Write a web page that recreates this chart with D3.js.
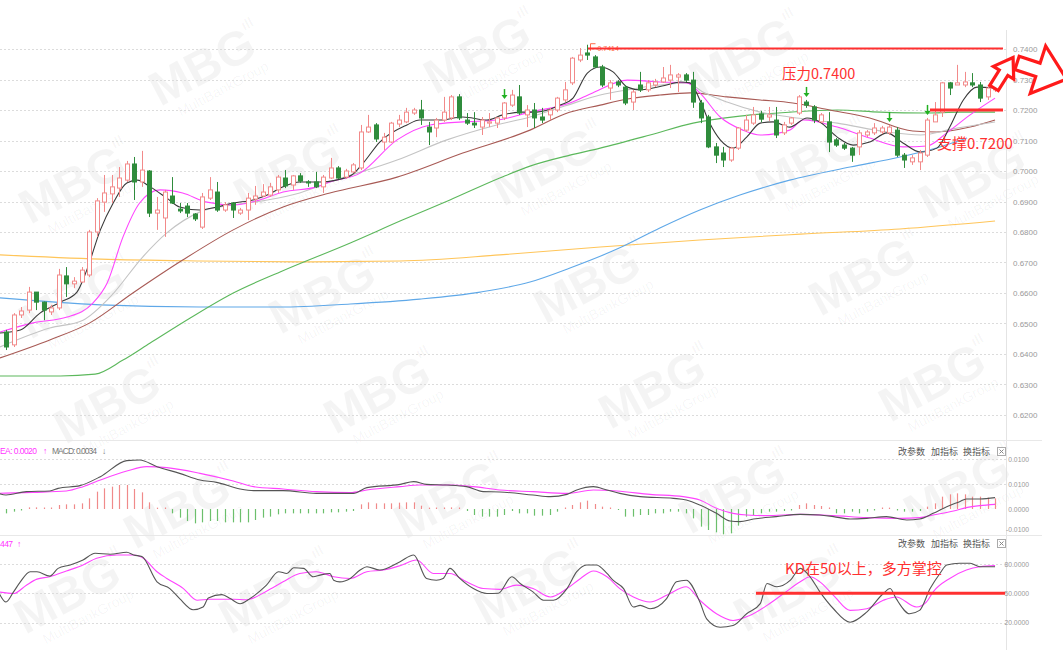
<!DOCTYPE html>
<html><head><meta charset="utf-8">
<script src="https://cdn.jsdelivr.net/npm/d3@7"></script>
<style>body{margin:0;background:#fff;}svg{display:block;}</style>
</head><body>
<svg id="c" width="1063" height="650"></svg>
<script>
// ---------------- DATA ----------------
const open  = [.6472,.6430,.6528,.6544,.6603,.6570,.6538,.6551,.6656,.6630,.6636,.6659,.6800,.6898,.6925,.6944,.6970,.7023,.6964,.7000,
.6862,.6846,.6918,.6875,.6885,.6859,.6816,.6911,.6931,.6872,.6895,.6862,.6872,.6908,.6918,.6921,.6938,.6977,.6954,.6984,
.6964,.6964,.6948,.6977,.7010,.6980,.6997,.7010,.7128,.7151,.7095,.7095,.7154,.7161,.7190,.7200,.7144,.7141,.7167,.7174,
.7243,.7167,.7157,.7144,.7157,.7157,.7174,.7216,.7243,.7184,.7200,.7177,.7184,.7200,.7233,.7289,.7364,.7387,.7374,.7341,
.7272,.7292,.7275,.7226,.7282,.7266,.7282,.7292,.7298,.7308,.7315,.7298,.7223,.7177,.7079,.7059,.7036,.7075,.7134,.7157,
.7187,.7177,.7167,.7125,.7157,.7190,.7226,.7210,.7161,.7161,.7102,.7085,.7075,.7079,.7118,.7125,.7128,.7125,.7134,.7052,
.7030,.7030,.7052,.7161,.7193,.7289,.7282,.7282,.7289,.7282,.7243,.7266];
const high  = [.6479,.6534,.6554,.6620,.6603,.6572,.6561,.6679,.6685,.6652,.6685,.6807,.6911,.6987,.6987,.7013,.7033,.7046,.7066,.7003,
.6915,.6938,.6980,.6895,.6895,.6862,.6928,.6980,.6964,.6898,.6898,.6879,.6928,.6951,.6957,.6961,.6987,.7003,.6987,.6993,
.6970,.6997,.6987,.7043,.7016,.7007,.7026,.7151,.7184,.7157,.7125,.7161,.7184,.7207,.7207,.7233,.7161,.7174,.7243,.7249,
.7252,.7190,.7193,.7177,.7190,.7177,.7226,.7266,.7282,.7216,.7223,.7207,.7207,.7243,.7292,.7374,.7403,.7414,.7380,.7348,
.7298,.7298,.7282,.7266,.7325,.7298,.7302,.7341,.7348,.7321,.7321,.7325,.7233,.7184,.7092,.7079,.7079,.7144,.7184,.7210,
.7197,.7210,.7210,.7161,.7177,.7249,.7233,.7216,.7190,.7193,.7108,.7092,.7079,.7134,.7134,.7157,.7148,.7151,.7144,.7059,
.7052,.7069,.7174,.7226,.7292,.7292,.7348,.7325,.7321,.7292,.7282,.7282];
const low   = [.6413,.6423,.6518,.6534,.6544,.6511,.6528,.6544,.6587,.6616,.6633,.6652,.6784,.6866,.6895,.6915,.6964,.6905,.6948,.6849,
.6807,.6784,.6892,.6862,.6849,.6836,.6810,.6905,.6866,.6866,.6846,.6856,.6839,.6889,.6915,.6915,.6928,.6944,.6938,.6961,
.6948,.6944,.6928,.6974,.6974,.6974,.6993,.7003,.7125,.7095,.7069,.7092,.7144,.7157,.7184,.7151,.7085,.7111,.7161,.7167,
.7167,.7151,.7141,.7118,.7144,.7141,.7167,.7210,.7184,.7144,.7141,.7157,.7167,.7193,.7226,.7282,.7357,.7364,.7338,.7275,
.7233,.7275,.7216,.7200,.7259,.7259,.7275,.7289,.7272,.7259,.7292,.7207,.7157,.7075,.7026,.7013,.7030,.7069,.7128,.7151,
.7160,.7164,.7108,.7118,.7151,.7184,.7207,.7157,.7157,.7062,.7079,.7069,.7030,.7052,.7111,.7118,.7121,.7118,.7046,.7010,
.7020,.7003,.7046,.7161,.7177,.7249,.7282,.7275,.7275,.7226,.7233,.7259];
const close = [.6423,.6528,.6541,.6603,.6570,.6544,.6551,.6659,.6630,.6639,.6675,.6800,.6902,.6928,.6948,.6977,.7023,.6964,.7003,.6862,
.6872,.6931,.6895,.6869,.6862,.6843,.6915,.6938,.6872,.6889,.6872,.6872,.6911,.6918,.6931,.6948,.6980,.6951,.6984,.6967,
.6961,.6948,.6980,.7010,.6977,.7000,.7020,.7128,.7144,.7105,.7111,.7157,.7167,.7193,.7200,.7174,.7128,.7167,.7193,.7243,
.7174,.7157,.7151,.7167,.7161,.7174,.7223,.7249,.7190,.7200,.7174,.7167,.7200,.7239,.7266,.7370,.7380,.7380,.7341,.7282,
.7289,.7282,.7223,.7259,.7266,.7289,.7292,.7305,.7315,.7315,.7298,.7226,.7174,.7079,.7052,.7036,.7075,.7141,.7167,.7184,
.7170,.7184,.7118,.7151,.7174,.7243,.7216,.7167,.7184,.7095,.7085,.7075,.7052,.7125,.7128,.7141,.7141,.7144,.7052,.7036,
.7043,.7059,.7167,.7184,.7289,.7272,.7289,.7292,.7282,.7239,.7272,.7272];
const signalArrows = [66, 106, 117, 122];
const highMark = {index: 77, label: "0.7414"};

// moving averages: [candle index, price]
const ma5 = [[-0.8,.6469],[1.9,.6479],[4.5,.6534],[7.2,.6570],[9.4,.6603],[10.7,.6675],[12.5,.6807],[14.2,.6895],[16,.6961],[17.4,.6970],[19.1,.6948],[21.3,.6911],[23,.6882],[25.7,.6872],[27.9,.6882],[30.1,.6895],[32.7,.6905],[34.6,.6921],[36.7,.6948],[38.9,.6964],[41.6,.6964],[45.6,.6984],[47.3,.7026],[49.5,.7095],[53.1,.7151],[54.8,.7167],[57.5,.7167],[60.5,.7177],[63.7,.7167],[65.8,.7184],[68.1,.7193],[70.3,.7193],[73.4,.7216],[75.1,.7239],[77,.7321],[78.7,.7341],[80.4,.7325],[82.3,.7275],[84,.7266],[85.7,.7272],[87.5,.7282],[89.3,.7292],[90.6,.7289],[91.9,.7233],[93.2,.7157],[94.6,.7102],[96.3,.7075],[98.1,.7111],[99.9,.7157],[101.6,.7161],[103.8,.7144],[106.1,.7174],[107.8,.7161],[110.1,.7111],[112.2,.7085],[114.4,.7095],[116.7,.7125],[118.8,.7092],[121.1,.7062],[123.3,.7075],[125,.7144],[126.8,.7233],[128.6,.7275],[131,.7272]];
const ma10 = [[-0.8,.6472],[3.6,.6502],[8.1,.6521],[11.5,.6567],[13.4,.6633],[15.5,.6784],[17.7,.6895],[20.4,.6938],[23.4,.6928],[26.6,.6898],[30.1,.6889],[33.6,.6905],[36.7,.6931],[41.2,.6948],[42.9,.6964],[46.9,.6993],[51.8,.7102],[56.2,.7151],[60.5,.7161],[65,.7167],[69.4,.7193],[74.7,.7223],[77.7,.7256],[82.3,.7298],[86.6,.7292],[90.2,.7289],[91.9,.7256],[94.6,.7177],[97.6,.7134],[99.9,.7118],[103.8,.7134],[105.6,.7167],[110.1,.7144],[114.4,.7108],[118.8,.7079],[122,.7082],[124.6,.7125],[127.7,.7184],[131,.7239]];
const ma20 = [[-0.8,.6423],[5.8,.6485],[10.2,.6511],[13.8,.6587],[18.1,.6718],[21.3,.6797],[25.7,.6866],[30.1,.6889],[34.6,.6905],[38.9,.6928],[42.9,.6964],[51.8,.7036],[58.4,.7102],[65,.7151],[69.4,.7177],[74,.7213],[78.7,.7249],[82.3,.7266],[86.6,.7282],[90.2,.7289],[92.3,.7259],[95.5,.7226],[99.9,.7193],[103.8,.7177],[110.1,.7157],[116.7,.7128],[121.1,.7118],[125.4,.7138],[131,.7161]];
const ma30 = [[-0.8,.6387],[5.8,.6446],[11.1,.6502],[16.8,.6600],[23.4,.6708],[30.1,.6807],[36.7,.6882],[42.9,.6928],[51.8,.6980],[60.5,.7059],[69.4,.7134],[74,.7187],[78.7,.7216],[82.3,.7236],[86.6,.7249],[90.6,.7256],[95.5,.7243],[99.9,.7233],[104.2,.7223],[109.1,.7200],[114.4,.7174],[120.1,.7131],[123.3,.7128],[127.7,.7144],[131,.7167]];
const ma60 = [[-0.8,.6328],[7.2,.6328],[11.8,.6334],[15.5,.6380],[19.1,.6436],[24.4,.6518],[30.1,.6600],[36.3,.6669],[45.6,.6764],[52.5,.6839],[58.8,.6905],[65.4,.6977],[69.4,.7016],[74.7,.7052],[78.7,.7075],[85.3,.7118],[91,.7157],[97.2,.7180],[103.8,.7193],[110.1,.7200],[115.8,.7193],[121.7,.7190],[126.4,.7193],[131,.7193]];
const ma120 = [[-0.8,.6584],[12.5,.6561],[25.7,.6554],[36.3,.6554],[45.6,.6564],[54.8,.6580],[62.8,.6603],[69.4,.6636],[74.7,.6682],[81.3,.6748],[86.6,.6813],[91.9,.6872],[97.2,.6921],[103.8,.6970],[111.8,.7013],[118.4,.7046],[123.7,.7079],[127.3,.7108]];
const ma250 = [[-0.8,.6725],[12.5,.6711],[25.7,.6705],[38.9,.6702],[52.2,.6705],[65.4,.6725],[78.7,.6751],[91.9,.6774],[105.2,.6793],[118.4,.6810],[131,.6836]];

// MACD
const macdHist = [-.00087,-.00053,-.0001,.00033,.00033,.0001,.0001,.0008,.00093,.00093,.00113,.00213,.00347,.00413,.00447,.0048,.0048,.004,.00333,.00133,
.00027,.0001,-.00087,-.00173,-.0024,-.00287,-.00267,-.0024,-.0024,-.00267,-.00267,-.00267,-.00267,-.0022,-.00173,-.00153,-.00107,-.00087,-.00087,-.00087,
-.00087,-.00087,-.00087,-.00067,-.00067,-.00053,-.0004,.00093,.00133,.00113,.00113,.00113,.00127,.00133,.00133,.00067,.00027,.0001,.0001,.00033,
.0001,-.0004,-.0012,-.00153,-.00153,-.00153,-.0012,-.0004,-.00087,-.00087,-.00133,-.00133,-.0012,-.00053,.0001,.0008,.00133,.00167,.001,.00047,
.0001,-.0002,-.00153,-.00153,-.0012,-.0012,-.00087,-.00087,-.00053,-.00053,-.00087,-.00187,-.00353,-.0042,-.00467,-.00507,-.00487,-.00333,-.00153,-.0012,
-.00087,-.00053,-.00053,-.0004,-.0001,.0008,.00113,.0008,.0006,.0001,-.00087,-.00087,-.00053,-.00087,-.00053,-.0001,.0001,.00027,-.0001,-.00053,
-.00053,-.0004,.00047,.00113,.00247,.00293,.00313,.00293,.00247,.00247,.00227,.00213];
const dif = [[-1,.00313],[0,.0028],[2.7,.00347],[5.8,.0036],[6.9,.00413],[9.8,.00467],[12.5,.00647],[16,.00967],[17.7,.0098],[20,.00847],[23,.00713],[25.7,.0058],[27.9,.00533],[31,.004],[32.8,.00367],[36.7,.00367],[41.1,.00313],[43.4,.00313],[46,.00313],[47.8,.00427],[52.2,.00493],[54,.00547],[55.7,.00493],[58.4,.0048],[61,.00447],[63.2,.00347],[65.4,.0034],[69.8,.0028],[72.1,.00247],[74.3,.00293],[75.6,.0038],[77.8,.00447],[79.6,.0038],[81.3,.00313],[84,.00247],[88.4,.00213],[90.1,.0018],[91.9,.0008],[94.1,-.00087],[95.9,-.0024],[97.2,-.00253],[99,-.002],[102,-.00153],[105.2,-.00107],[107.8,-.0012],[109.6,-.00153],[111.8,-.002],[114,-.00187],[116.6,-.00153],[119.3,-.0022],[121,-.002],[122.8,-.00087],[124.6,.00047],[126.3,.00147],[127.2,.002],[129,.002],[131,.00227]];
const dea = [[-1,.00313],[3.6,.00333],[8,.0036],[10.2,.00447],[12.5,.0058],[16,.0076],[18.6,.00847],[21.3,.00827],[25.7,.00713],[30.1,.0056],[32.8,.00447],[36.7,.004],[41.1,.00347],[45.6,.00327],[47.8,.0038],[52.2,.00447],[54.8,.0048],[58.8,.0048],[61.9,.00447],[65.4,.0038],[69.8,.00347],[74.3,.00313],[77.8,.0038],[80.9,.0036],[85.3,.00293],[89.7,.00247],[91.9,.0018],[94.1,.00013],[96.3,-.00087],[98.1,-.0012],[100.7,-.00133],[105.2,-.00107],[109.6,-.00133],[114,-.00173],[118.4,-.00187],[121,-.00173],[122.8,-.0012],[125.5,-.0004],[127.2,.00027],[129,.00067],[131,.00093]];
const macdTickVals = [0.01, 0.005, 0, -0.004];
const macdTickLabels = ["0.0100", "0.0100", "0.0000", "-0.0100"];

// KD
const kLine = [[-1,51.4],[0,41],[1,51.4],[1.9,61.7],[3.2,72.1],[4.1,72.1],[5.8,67.6],[6.9,75.5],[8.5,79],[10.2,84.1],[11.8,91],[13.8,90],[16,92.1],[16.9,89.3],[18,87.6],[20,61.7],[21.7,54.8],[23,44.5],[24.8,33.1],[26.1,35.9],[26.8,45.2],[28.6,48.6],[29.7,44.5],[31,39.3],[32.3,44.5],[34.5,58.3],[36.1,72.1],[37.2,70.3],[38.1,76.2],[39.4,75.5],[40.7,66.9],[41.6,68.6],[42.9,70.3],[43.4,63.4],[44.2,61.7],[45.6,65.2],[46.9,73.8],[47.8,77.2],[49.5,73.8],[52.2,82.4],[54,89.3],[55.7,65.2],[57,63.4],[57.9,65.2],[58.8,75.5],[60.1,65.2],[61.9,54.8],[63.7,49.7],[65.2,50],[67,66.9],[68.1,60],[69.8,51.4],[71.2,42.8],[72.5,42.8],[74.3,54.8],[75.6,72.1],[76.9,79],[78.2,79],[79.6,70.3],[80.4,63.4],[81.8,54.8],[83.1,35.9],[84,37.6],[85.3,34.1],[87.5,44.5],[88.8,61.7],[90.1,63.4],[91.9,41],[92.8,23.8],[94.6,15.2],[96.3,16.9],[98.1,29],[99.9,39.3],[100.8,60],[102.1,56.6],[103.9,63.4],[105.2,75.5],[106.5,66.9],[107.8,51.4],[109.6,34.1],[111.8,20.3],[114,30.7],[116.2,49.7],[117.1,54.8],[117.9,44.5],[119.7,29],[121,32.4],[122.4,54.8],[123.7,70.3],[124.6,79],[126.3,80.7],[127.7,80.7],[129,77.2],[131,77.2]];
const dLine = [[-1,51.4],[1,49.7],[2.7,58.3],[4.1,64.5],[5.8,66.9],[8,72.8],[10.2,79],[12,85.9],[14.7,89.3],[16.9,89.3],[18.2,85.9],[20,72.1],[21.3,65.2],[23.5,54.8],[25.3,42.8],[27,43.8],[30.1,43.8],[31.9,43.4],[34.5,52.1],[36.7,61.7],[38.9,70.3],[41.1,72.1],[43.4,66.9],[45.6,65.2],[47.8,72.1],[50,73.8],[52.2,78.3],[54.4,84.1],[56.6,70.3],[58.8,70.3],[61,61.7],[63.2,54.8],[65.4,54],[67.6,58.3],[69.8,54.8],[72.1,46.2],[74.3,54.8],[76.1,65.2],[77.8,72.8],[79.6,66.9],[81.3,54.8],[83.1,46.2],[85.3,41],[87.5,47.9],[90.1,56.6],[91.9,42.8],[94.1,29],[96.3,22.1],[98.5,27.2],[100.8,37.6],[103,49.7],[105.2,61.7],[106.5,66.9],[107.8,61.7],[109.6,47.9],[111.8,32.4],[114,34.1],[116.2,42.8],[117.9,46.2],[120.6,35.9],[121.9,41],[122.8,51.4],[125,65.2],[127.2,73.8],[129,77.2],[131,78.3]];
const kdTicks = [80, 50, 20];
const priceTicks = [0.74,0.73,0.72,0.71,0.70,0.69,0.68,0.67,0.66,0.65,0.64,0.63,0.62];

const resistance = 0.7400, support = 0.7200, kdLevel = 50;
const notes = {res: "压力0.7400", sup: "支撑0.7200", kd: "KD在50以上，多方掌控"};

// ---------------- DRAW ----------------
const svg = d3.select("#c");
const RED = "#f28a8a", GREEN = "#2f8c3c", ANN = "#ff3030";
const FONT = "'Liberation Sans', Arial, sans-serif";
const CJK = "'Noto Sans CJK SC', sans-serif";
const AXX = 1006;

const x = d3.scaleLinear().domain([0, 131]).range([6, 995.05]);
const yP = d3.scaleLinear().domain([0.62, 0.74]).range([415, 49]);
const yM = d3.scaleLinear().domain([0, 0.01]).range([509, 459]);
const yK = d3.scaleLinear().domain([20, 80]).range([622.5, 564]);

const defs = svg.append("defs");
[["clipMain",0,30,AXX,410],["clipMacd",0,440,AXX,95],["clipKd",0,535,AXX,97]].forEach(c=>{
  defs.append("clipPath").attr("id",c[0]).append("rect").attr("x",c[1]).attr("y",c[2]).attr("width",c[3]).attr("height",c[4]);
});

// watermarks (kept inside the picture)
const wmPos = [[205,72],[480,60],[745,62],[75,190],[290,178],[548,172],[812,168],[975,185],[75,305],[325,300],[590,290],[865,282],[110,410],[380,400],[655,395],[935,388],[180,515],[450,505],[735,500],[960,495],[70,600],[275,600],[530,592],[790,598]];
const wm = svg.append("g").attr("pointer-events","none");
wmPos.forEach(p=>{
  const g = wm.append("g").attr("transform",`translate(${p[0]},${p[1]}) rotate(-28)`);
  g.append("text").attr("text-anchor","middle").attr("y",10).attr("font-family",FONT).attr("font-weight","bold")
    .attr("font-size",48).attr("fill","#000").attr("fill-opacity",0.045).text("MBG");
  g.append("text").attr("text-anchor","middle").attr("x",8).attr("y",28).attr("font-family",FONT)
    .attr("font-size",14).attr("fill","#000").attr("fill-opacity",0.045).text("MultiBankGroup");
  g.append("text").attr("x",54).attr("y",-18).attr("font-family",FONT).attr("font-weight","bold")
    .attr("font-size",14).attr("fill","#000").attr("fill-opacity",0.045).text("ıll");
});

// frame lines
svg.append("line").attr("x1",AXX+0.5).attr("x2",AXX+0.5).attr("y1",30).attr("y2",650).attr("stroke","#e4e4e4");
[440.5,535.5].forEach(y=>svg.append("line").attr("x1",0).attr("x2",1042).attr("y1",y).attr("y2",y).attr("stroke","#e8e8e8"));

// grid
function grid(vals, scale){
  svg.append("g").selectAll("line").data(vals).join("line")
    .attr("x1",0).attr("x2",AXX).attr("y1",d=>Math.round(scale(d))+0.5).attr("y2",d=>Math.round(scale(d))+0.5)
    .attr("stroke","#dcdcdc").attr("stroke-dasharray","2,2");
}
grid(priceTicks, yP);
grid([0.01,0.005], yM);
grid(kdTicks, yK);

// axes
const axP = d3.axisRight(yP).tickValues(priceTicks).tickFormat(d3.format(".4f")).tickSize(0).tickPadding(0);
const gP = svg.append("g").attr("transform","translate(1013,0)").call(axP);
gP.select(".domain").remove();
gP.selectAll("text").attr("font-family",FONT).attr("font-size",8).attr("fill","#9a9a9a");

const axM = d3.axisLeft(yM).tickValues(macdTickVals).tickFormat((d,i)=>macdTickLabels[i]).tickSize(0).tickPadding(0);
const gM = svg.append("g").attr("transform","translate(1029,0)").call(axM);
gM.select(".domain").remove();
gM.selectAll("text").attr("font-family",FONT).attr("font-size",6.8).attr("fill","#9a9a9a");

const axK = d3.axisLeft(yK).tickValues(kdTicks).tickFormat(d3.format(".4f")).tickSize(0).tickPadding(0);
const gK = svg.append("g").attr("transform","translate(1029,0)").call(axK);
gK.select(".domain").remove();
gK.selectAll("text").attr("font-family",FONT).attr("font-size",6.8).attr("fill","#9a9a9a");

// main plot
const main = svg.append("g").attr("clip-path","url(#clipMain)");
const lineP = d3.line().x(d=>x(d[0])).y(d=>yP(d[1])).curve(d3.curveMonotoneX);
[[ma250,"#ffc559"],[ma120,"#5fa8e8"],[ma60,"#5cb85c"],[ma30,"#a85a55"],[ma20,"#c4c4c4"],[ma10,"#ff44ff"],[ma5,"#3a3a3a"]].forEach(s=>{
  main.append("path").attr("d",lineP(s[0])).attr("fill","none").attr("stroke",s[1]).attr("stroke-width",1.1);
});

const cg = main.append("g");
d3.range(close.length).forEach(i=>{
  const up = close[i] >= open[i];
  const col = up ? RED : GREEN;
  const cx = Math.round(x(i));
  const top = yP(Math.max(open[i],close[i])), bot = yP(Math.min(open[i],close[i]));
  const h = Math.max(bot-top, 1);
  if(up){
    cg.append("line").attr("x1",cx+0.5).attr("x2",cx+0.5).attr("y1",yP(high[i])).attr("y2",top).attr("stroke",col);
    cg.append("line").attr("x1",cx+0.5).attr("x2",cx+0.5).attr("y1",top+h).attr("y2",yP(low[i])).attr("stroke",col);
    cg.append("rect").attr("x",cx-1.5).attr("y",top).attr("width",4).attr("height",h).attr("fill","#fff").attr("stroke",col);
  } else {
    cg.append("line").attr("x1",cx+0.5).attr("x2",cx+0.5).attr("y1",yP(high[i])).attr("y2",yP(low[i])).attr("stroke",col);
    cg.append("rect").attr("x",cx-1.5).attr("y",top).attr("width",4).attr("height",h).attr("fill",col).attr("stroke",col);
  }
});

// signal arrows
signalArrows.forEach(i=>{
  const cx = Math.round(x(i))+0.5, yy = yP(high[i]) - 3;
  main.append("line").attr("x1",cx).attr("x2",cx).attr("y1",yy-10).attr("y2",yy-3).attr("stroke","#22b022").attr("stroke-width",1.5);
  main.append("path").attr("d",`M${cx-3},${yy-4} L${cx+3},${yy-4} L${cx},${yy} Z`).attr("fill","#22b022");
});

// high marker
{
  const hx = Math.round(x(highMark.index))+3.5, hy = yP(0.7414)+2;
  svg.append("path").attr("d",`M${hx},${hy+4} V${hy-3} H${hx+5}`).attr("fill","none").attr("stroke","#ff6a4a").attr("stroke-width",1);
  svg.append("text").attr("x",hx+7).attr("y",hy+4).attr("font-family",FONT).attr("font-size",7).attr("fill","#ff6a4a").text(highMark.label);
}

// annotations
svg.append("line").attr("x1",588).attr("x2",1003).attr("y1",yP(resistance)-0.5).attr("y2",yP(resistance)-0.5).attr("stroke",ANN).attr("stroke-width",2);
svg.append("line").attr("x1",930).attr("x2",1003).attr("y1",yP(support)).attr("y2",yP(support)).attr("stroke",ANN).attr("stroke-width",3);
svg.append("text").attr("x",782).attr("y",79).attr("font-family",CJK).attr("font-size",14.5).attr("fill",ANN).text(notes.res);
svg.append("text").attr("x",937).attr("y",149).attr("font-family",CJK).attr("font-size",15).attr("fill",ANN).text(notes.sup);

// red outline arrows
function blockArrow(tx,ty,rot,pts){
  svg.append("path").attr("d","M"+pts.map(p=>p.join(",")).join("L")+"Z")
    .attr("transform",`translate(${tx},${ty}) rotate(${rot})`)
    .attr("fill","#fff").attr("stroke","#ff1a1a").attr("stroke-width",3.2).attr("stroke-linejoin","miter");
}
blockArrow(994,88,-58,[[0,-5],[18,-5],[18,-12],[36,0],[18,12],[18,5],[0,5]]);
blockArrow(1017,63,18,[[0,-7],[22,-7],[22,-25],[52,0],[22,25],[22,7],[0,7]]);

// MACD panel
const mg = svg.append("g").attr("clip-path","url(#clipMacd)");
d3.range(macdHist.length).forEach(i=>{
  const v = macdHist[i], cx = Math.round(x(i))+0.5;
  mg.append("line").attr("x1",cx).attr("x2",cx).attr("y1",yM(0)).attr("y2",yM(v) + (Math.abs(yM(v)-yM(0))<1 ? (v>=0?-1:1):0))
    .attr("stroke", v>=0 ? "#f08a8a" : "#6cbf6c").attr("stroke-width",1.2);
});
const lineM = d3.line().x(d=>x(d[0])).y(d=>yM(d[1])).curve(d3.curveMonotoneX);
mg.append("path").attr("d",lineM(dea)).attr("fill","none").attr("stroke","#ff44ff").attr("stroke-width",1.1);
mg.append("path").attr("d",lineM(dif)).attr("fill","none").attr("stroke","#555").attr("stroke-width",1.1);

// KD panel
const kg = svg.append("g").attr("clip-path","url(#clipKd)");
const lineK = d3.line().x(d=>x(d[0])).y(d=>yK(d[1])).curve(d3.curveMonotoneX);
kg.append("path").attr("d",lineK(dLine)).attr("fill","none").attr("stroke","#ff44ff").attr("stroke-width",1.1);
kg.append("path").attr("d",lineK(kLine)).attr("fill","none").attr("stroke","#555").attr("stroke-width",1.1);
svg.append("line").attr("x1",756).attr("x2",1005).attr("y1",yK(kdLevel)).attr("y2",yK(kdLevel)).attr("stroke",ANN).attr("stroke-width",3);
svg.append("text").attr("x",785).attr("y",574).attr("font-family",CJK).attr("font-size",15).attr("fill",ANN).text(notes.kd);

// panel headers
const hg = svg.append("g").attr("font-family",FONT).attr("font-size",8.5);
hg.append("text").attr("x",0).attr("y",454).attr("fill","#ff33ff").attr("textLength",37).text("EA: 0.0020");
hg.append("text").attr("x",43).attr("y",454).attr("fill","#ff33ff").text("↑");
hg.append("text").attr("x",52).attr("y",454).attr("fill","#777").attr("textLength",45).text("MACD: 0.0034");
hg.append("text").attr("x",102).attr("y",454).attr("fill","#777").text("↓");
hg.append("text").attr("x",0).attr("y",547).attr("fill","#ff33ff").attr("textLength",13).text("447");
hg.append("text").attr("x",17).attr("y",547).attr("fill","#ff33ff").text("↑");

[452, 544].forEach(y=>{
  const t = svg.append("g").attr("font-family",CJK).attr("font-size",9).attr("fill","#555");
  t.append("text").attr("x",898).attr("y",y+3).text("改参数");
  t.append("text").attr("x",931).attr("y",y+3).text("加指标");
  t.append("text").attr("x",963).attr("y",y+3).text("换指标");
  svg.append("rect").attr("x",997.5).attr("y",y-4.5).attr("width",8).attr("height",8).attr("fill","#fff").attr("stroke","#aaa");
  svg.append("path").attr("d",`M${999.5},${y-2.5} L${1003.5},${y+1.5} M${1003.5},${y-2.5} L${999.5},${y+1.5}`).attr("stroke","#888");
});
</script>
</body></html>
